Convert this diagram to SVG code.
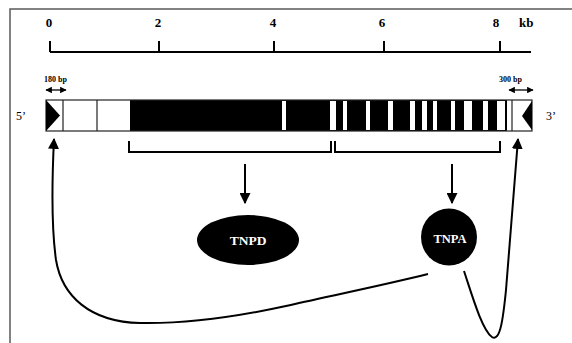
<svg xmlns="http://www.w3.org/2000/svg" width="572" height="343" viewBox="0 0 572 343">
  <defs>
    <style>
      .frame { fill: none; stroke: #5a5a5a; stroke-width: 1.5; }
      .ink { fill: none; stroke: #000; stroke-width: 2; }
      .thin { fill: none; stroke: #222; stroke-width: 1.2; }
      .lbl { font-family: "Liberation Serif", "Times New Roman", serif; font-weight: bold; fill: #000; }
      .end { font-family: "Liberation Serif", "Times New Roman", serif; font-size: 12px; fill: #000; }
      .bp { font-family: "Liberation Serif", "Times New Roman", serif; font-weight: bold; font-size: 8px; fill: #000; }
      .prot { font-family: "Liberation Serif", "Times New Roman", serif; font-weight: bold; fill: #fff; text-anchor: middle; }
    </style>
    <marker id="head" viewBox="0 0 10 10" refX="9" refY="5" markerWidth="5.5" markerHeight="5.5" orient="auto-start-reverse" markerUnits="strokeWidth">
      <path d="M0,0 L10,5 L0,10 z" fill="#000"/>
    </marker>
    <marker id="small" viewBox="0 0 10 10" refX="9" refY="5" markerWidth="5" markerHeight="5" orient="auto-start-reverse" markerUnits="strokeWidth">
      <path d="M0,0 L10,5 L0,10 z" fill="#000"/>
    </marker>
  </defs>

  <rect width="572" height="343" fill="#fff"/>
  <!-- outer frame (top and left edges) -->
  <path class="frame" d="M10,350 L10,9 L580,9"/>

  <!-- kb scale -->
  <g id="scale">
    <path class="ink" d="M50,52 L531,52 M50,41 L50,52 M159,41 L159,52 M274,41 L274,52 M384,41 L384,52 M500,41 L500,52"/>
    <text class="lbl" font-size="13" x="49" y="27" text-anchor="middle">0</text>
    <text class="lbl" font-size="13" x="158" y="27" text-anchor="middle">2</text>
    <text class="lbl" font-size="13" x="273" y="27" text-anchor="middle">4</text>
    <text class="lbl" font-size="13" x="382" y="27" text-anchor="middle">6</text>
    <text class="lbl" font-size="13" x="496" y="27" text-anchor="middle">8</text>
    <text class="lbl" font-size="13" x="519" y="27">kb</text>
  </g>

  <!-- terminal inverted repeats sizes -->
  <g id="tir-left">
    <text class="bp" x="44" y="82">180 bp</text>
    <path d="M46,90 L66,90" stroke="#000" stroke-width="1.3" marker-start="url(#small)" marker-end="url(#small)"/>
  </g>
  <g id="tir-right">
    <text class="bp" x="499" y="82">300 bp</text>
    <path d="M509,90 L533,90" stroke="#000" stroke-width="1.3" marker-start="url(#small)" marker-end="url(#small)"/>
  </g>

  <!-- element map -->
  <g id="element">
    <rect x="130" y="100" width="377" height="31" fill="#000"/>
    <g fill="#fff">
      <rect x="282" y="101" width="4" height="29"/>
      <rect x="330" y="101" width="6" height="29"/>
      <rect x="343" y="101" width="4" height="29"/>
      <rect x="366" y="101" width="4" height="29"/>
      <rect x="388" y="101" width="5" height="29"/>
      <rect x="410" y="101" width="5" height="29"/>
      <rect x="422" y="101" width="5" height="29"/>
      <rect x="433" y="101" width="4" height="29"/>
      <rect x="451" y="101" width="4" height="29"/>
      <rect x="464" y="101" width="8" height="29"/>
      <rect x="483" y="101" width="5" height="29"/>
      <rect x="497" y="101" width="8" height="29"/>
    </g>
    <rect class="thin" x="46" y="100" width="486" height="31"/>
    <path class="thin" d="M63,100 L63,131 M97,100 L97,131 M512,100 L512,131"/>
    <path d="M46,100 L60,115.5 L46,131 z" fill="#000"/>
    <path d="M532,101 L522,116 L532,130 z" fill="#000"/>
    <text class="end" x="16" y="120">5’</text>
    <text class="end" x="546" y="120">3’</text>
  </g>

  <!-- ORF brackets, protein arrows and return paths -->
  <g id="connectors">
    <path class="ink" d="M129,141 L129,152 L331,152 L331,141 M335,141 L335,152 L500,152 L500,141"/>
    <path class="ink" d="M245,164 L245,203" marker-end="url(#head)"/>
    <path class="ink" d="M452,164 L452,203" marker-end="url(#head)"/>
    <path class="ink" d="M428,274 C380,286 320,298 286,306 C240,316 190,324 140,323 C90,322 62,296 56,260 C51,225 52,180 54,139" marker-end="url(#head)"/>
    <path class="ink" d="M464,271 C472,295 482,330 492,337 C500,342 503,320 506,290 C510,240 514,190 518,139" marker-end="url(#head)"/>
  </g>

  <g id="tnpd">
    <ellipse cx="248" cy="240" rx="51" ry="25" fill="#000"/>
    <text class="prot" font-size="13.5" x="248" y="245">TNPD</text>
  </g>
  <g id="tnpa">
    <ellipse cx="449" cy="237" rx="28" ry="28.5" fill="#000"/>
    <text class="prot" font-size="12.5" x="450" y="243">TNPA</text>
  </g>
</svg>
